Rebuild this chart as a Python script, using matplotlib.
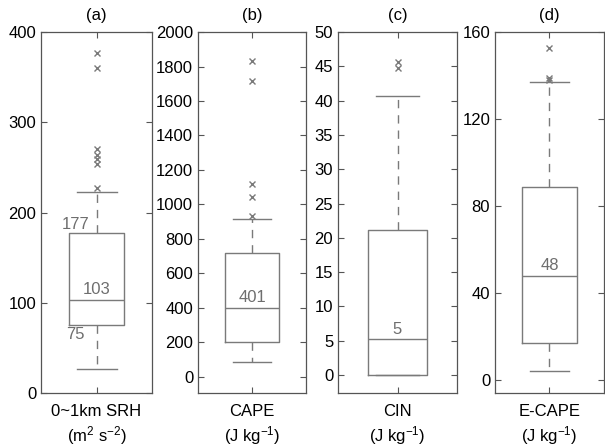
import numpy as np
import matplotlib
matplotlib.use('Agg')
import matplotlib.pyplot as plt

plt.rcParams['font.family'] = ['Liberation Sans', 'DejaVu Sans']
plt.rcParams['mathtext.fontset'] = 'custom'
plt.rcParams['mathtext.rm'] = 'Liberation Sans'
plt.rcParams['mathtext.it'] = 'Liberation Sans'
plt.rcParams['mathtext.default'] = 'rm'

# panel data
panels = ['(a)', '(b)', '(c)', '(d)']
names = ['0~1km SRH', 'CAPE', 'CIN', 'E-CAPE']
units = ['(m$^2$ s$^{-2}$)', '(J kg$^{-1}$)', '(J kg$^{-1}$)', '(J kg$^{-1}$)']
whislo = [26, 87, 0, 4.3]
q1 = [75, 198, 0, 17.1]
med = [103, 401, 5.2, 48]
q3 = [177, 716, 21.2, 88.8]
whishi = [223, 916, 40.7, 137.2]
fliers = [
    [227, 254, 259, 264, 270, 360, 377],
    [931, 1044, 1117, 1717, 1830],
    [44.7, 45.6],
    [138, 139, 152.6],
]
ylims = [(0, 400), (-95, 2000), (-2.6, 50), (-6, 160)]
yticks = [
    [0, 100, 200, 300, 400],
    [0, 200, 400, 600, 800, 1000, 1200, 1400, 1600, 1800, 2000],
    [0, 5, 10, 15, 20, 25, 30, 35, 40, 45, 50],
    [0, 40, 80, 120, 160],
]

# axes placement [left, bottom, width, height] in figure fraction
rects = [
    [0.0678, 0.119, 0.1835, 0.809],
    [0.3273, 0.119, 0.1785, 0.809],
    [0.5587, 0.119, 0.1967, 0.809],
    [0.8182, 0.119, 0.1800, 0.809],
]

grey = '#7a7a7a'
txtgrey = '#6e6e6e'
spine = '#555555'
fs = 12

fig = plt.figure(figsize=(6.05, 4.46), dpi=100)

for i in range(4):
    ax = fig.add_axes(rects[i])
    stats = [dict(med=med[i], q1=q1[i], q3=q3[i], whislo=whislo[i],
                  whishi=whishi[i], fliers=fliers[i])]
    ax.bxp(stats, positions=[1], widths=0.5, capwidths=0.36,
           boxprops=dict(color=grey, linewidth=1),
           medianprops=dict(color=grey, linewidth=1),
           whiskerprops=dict(color=grey, linewidth=1, linestyle=(0, (6, 5))),
           capprops=dict(color=grey, linewidth=1),
           flierprops=dict(marker='x', markeredgecolor=grey, markersize=4.5,
                           markeredgewidth=1))
    ax.set_xlim(0.5, 1.5)
    ax.set_ylim(*ylims[i])
    ax.set_yticks(yticks[i])
    ax.set_xticks([1])
    ax.set_xticklabels([names[i]], fontsize=fs)
    ax.tick_params(axis='both', direction='in', length=4, color=spine,
                   labelsize=fs, top=True, right=True, width=0.8)
    ax.tick_params(axis='x', pad=8)
    for s in ax.spines.values():
        s.set_color(spine)
        s.set_linewidth(0.9)
    ax.set_title(panels[i], fontsize=fs, pad=9)
    ax.text(0.5, -0.118, units[i], transform=ax.transAxes, fontsize=fs,
            ha='center', va='center')

    # median label above the median line
    ax.annotate(str(int(round(med[i]))), (1, med[i]), xytext=(0, 2),
                textcoords='offset points', color=txtgrey, fontsize=fs,
                ha='center', va='bottom')
    if i == 0:
        ax.annotate(str(q3[i]), (0.815, q3[i]), xytext=(0, 1),
                    textcoords='offset points', color=txtgrey, fontsize=fs,
                    ha='center', va='bottom')
        ax.annotate(str(q1[i]), (0.81, q1[i]), xytext=(0, -1),
                    textcoords='offset points', color=txtgrey, fontsize=fs,
                    ha='center', va='top')

fig.savefig('out.png', dpi=100)
